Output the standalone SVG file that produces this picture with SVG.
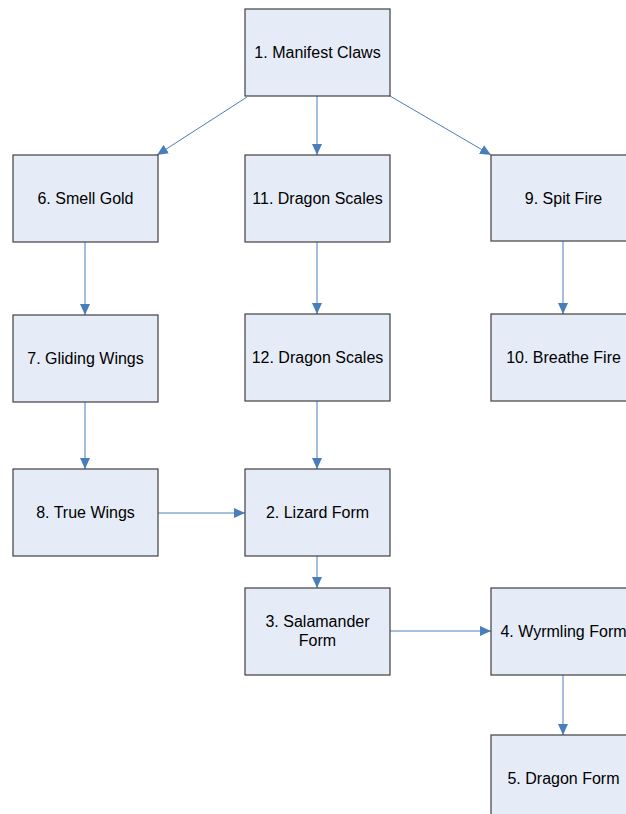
<svg xmlns="http://www.w3.org/2000/svg" width="626" height="814" viewBox="0 0 626 814">
  <style>
    .box { fill: #e6ecf7; stroke: #404040; stroke-width: 1.2; }
    .lbl { font-family: "Liberation Sans", Arial, sans-serif; font-size: 16px; fill: #000; text-anchor: middle; }
    .edge { fill: none; stroke: #4a7ebb; stroke-width: 1; marker-end: url(#arrow); }
  </style>
  <defs>
    <marker id="arrow" markerUnits="userSpaceOnUse" markerWidth="12" markerHeight="10" refX="11" refY="5" orient="auto">
      <path d="M0,0 L11,5 L0,10 Z" fill="#4a7ebb"/>
    </marker>
  </defs>
  <rect width="626" height="814" fill="#fff"/>

  <g id="connectors">
    <line class="edge" x1="247" y1="97" x2="157" y2="155"/>
    <line class="edge" x1="317" y1="96" x2="317" y2="155"/>
    <line class="edge" x1="390" y1="96" x2="491" y2="155"/>
    <line class="edge" x1="85" y1="242" x2="85" y2="315"/>
    <line class="edge" x1="85" y1="402" x2="85" y2="469"/>
    <line class="edge" x1="317" y1="242" x2="317" y2="314"/>
    <line class="edge" x1="317" y1="401" x2="317" y2="469"/>
    <line class="edge" x1="563" y1="241" x2="563" y2="314"/>
    <line class="edge" x1="158" y1="513" x2="245" y2="513"/>
    <line class="edge" x1="317" y1="556" x2="317" y2="588"/>
    <line class="edge" x1="390" y1="631" x2="491" y2="631"/>
    <line class="edge" x1="563" y1="675" x2="563" y2="735"/>
  </g>

  <g id="n1"><rect class="box" x="245" y="9" width="145" height="87"/><text class="lbl" x="317.5" y="58">1. Manifest Claws</text></g>
  <g id="n6"><rect class="box" x="13" y="155" width="145" height="87"/><text class="lbl" x="85.5" y="204">6. Smell Gold</text></g>
  <g id="n11"><rect class="box" x="245" y="155" width="145" height="87"/><text class="lbl" x="317.5" y="204">11. Dragon Scales</text></g>
  <g id="n9"><rect class="box" x="491" y="155" width="145" height="86"/><text class="lbl" x="563.5" y="204">9. Spit Fire</text></g>
  <g id="n7"><rect class="box" x="13" y="315" width="145" height="87"/><text class="lbl" x="85.5" y="364">7. Gliding Wings</text></g>
  <g id="n12"><rect class="box" x="245" y="314" width="145" height="87"/><text class="lbl" x="317.5" y="363">12. Dragon Scales</text></g>
  <g id="n10"><rect class="box" x="491" y="314" width="145" height="87"/><text class="lbl" x="563.5" y="363">10. Breathe Fire</text></g>
  <g id="n8"><rect class="box" x="13" y="469" width="145" height="87"/><text class="lbl" x="85.5" y="518">8. True Wings</text></g>
  <g id="n2"><rect class="box" x="245" y="469" width="145" height="87"/><text class="lbl" x="317.5" y="518">2. Lizard Form</text></g>
  <g id="n3"><rect class="box" x="245" y="588" width="145" height="87"/><text class="lbl" x="317.5" y="627">3. Salamander</text><text class="lbl" x="317.5" y="646">Form</text></g>
  <g id="n4"><rect class="box" x="491" y="588" width="145" height="87"/><text class="lbl" x="563.5" y="637">4. Wyrmling Form</text></g>
  <g id="n5"><rect class="box" x="491" y="735" width="145" height="87"/><text class="lbl" x="563.5" y="784">5. Dragon Form</text></g>
</svg>
